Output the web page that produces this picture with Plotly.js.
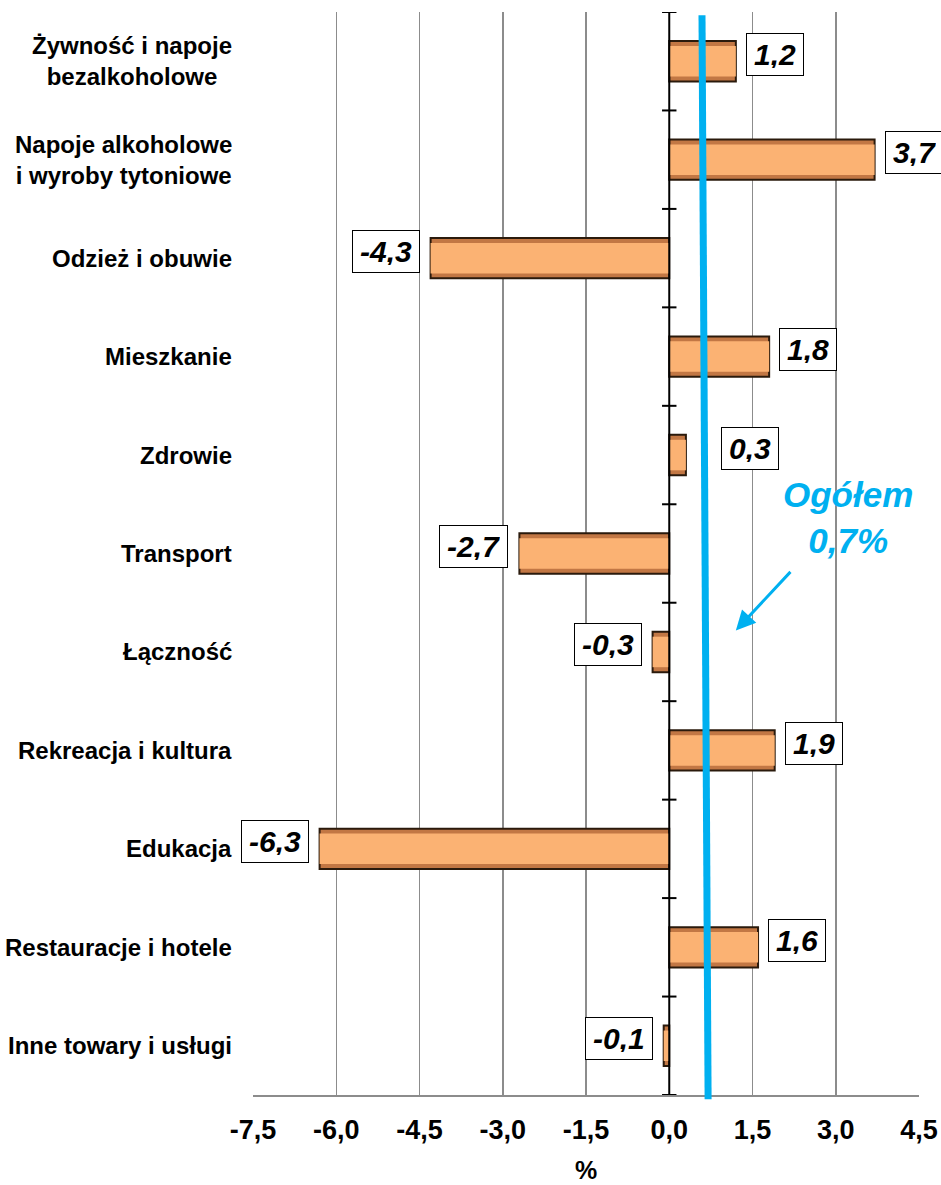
<!DOCTYPE html>
<html>
<head>
<meta charset="utf-8">
<script src="https://cdn.plot.ly/plotly-3.0.1.min.js"></script>
<style>html,body{margin:0;padding:0;background:#fff;}#chart{width:941px;height:1185px;}</style>
</head>
<body>
<div id="chart"></div>
<script>
const categories = [
  'Żywność i napoje<br>bezalkoholowe',
  'Napoje alkoholowe<br>i wyroby tytoniowe',
  'Odzież i obuwie',
  'Mieszkanie',
  'Zdrowie',
  'Transport',
  'Łączność',
  'Rekreacja i kultura',
  'Edukacja',
  'Restauracje i hotele',
  'Inne towary i usługi'
];
const values = [1.2, 3.7, -4.3, 1.8, 0.3, -2.7, -0.3, 1.9, -6.3, 1.6, -0.1];
const valueLabels = ['1,2', '3,7', '-4,3', '1,8', '0,3', '-2,7', '-0,3', '1,9', '-6,3', '1,6', '-0,1'];
const xTickVals = [-7.5, -6, -4.5, -3, -1.5, 0, 1.5, 3, 4.5];
const xTickText = ['-7,5', '-6,0', '-4,5', '-3,0', '-1,5', '0,0', '1,5', '3,0', '4,5'];
const ogolem = 0.7;
const ogolemLabel = 'Ogółem<br>0,7%';

const idx = categories.map((c, i) => i);
const FONT = 'Liberation Sans, Arial, sans-serif';
const BLUE = '#00B0F0';

const traces = [
  {type: 'bar', orientation: 'h', y: idx, x: values, width: 0.41,
   marker: {color: '#C27744', line: {color: '#2a1a0c', width: 2}}, hoverinfo: 'skip'},
  {type: 'bar', orientation: 'h', y: idx, x: values, width: 0.31,
   marker: {color: '#FBB273', line: {width: 0}}, hoverinfo: 'skip'}
];

const annotations = [];
categories.forEach((c, i) => {
  annotations.push({xref: 'paper', yref: 'y', x: 0, y: i, xanchor: 'right', yanchor: 'middle',
    xshift: -19, align: 'center', showarrow: false, text: '<b>' + c + '</b>',
    font: {family: FONT, size: 24, color: '#000'}});
});
values.forEach((v, i) => {
  const pos = v >= 0;
  let shift = pos ? 10 : -11;
  if (pos && Math.abs(v) < 0.5) shift = 35;
  annotations.push({xref: 'x', yref: 'y', x: v, y: i, xanchor: pos ? 'left' : 'right', yanchor: 'middle',
    xshift: shift, yshift: 7, showarrow: false, text: '<b><i>' + valueLabels[i] + '</i></b>',
    bgcolor: '#fff', bordercolor: '#000', borderwidth: 1, borderpad: 7, height: 27,
    font: {family: FONT, size: 30, color: '#000'}});
});
annotations.push({xref: 'paper', yref: 'paper', x: 0.893, y: 0.533, xanchor: 'center', yanchor: 'middle',
  showarrow: false, align: 'center', text: '<b><i>' + ogolemLabel + '</i></b>',
  font: {family: FONT, size: 35, color: BLUE}});
annotations.push({xref: 'paper', yref: 'paper', x: 0.725, y: 0.429, ax: 56, ay: -60,
  showarrow: true, text: '', arrowcolor: BLUE, arrowwidth: 3, arrowhead: 2, arrowsize: 1.3});

const shapes = [];
shapes.push({type: 'line', xref: 'x', yref: 'paper', x0: 0, x1: 0, y0: 0, y1: 1,
  line: {color: '#000', width: 2}, layer: 'above'});
for (let k = 0; k <= categories.length; k++) {
  shapes.push({type: 'line', xref: 'x', yref: 'y', x0: -0.13, x1: 0.13, y0: k - 0.5, y1: k - 0.5,
    line: {color: '#000', width: 2}, layer: 'above'});
}
shapes.push({type: 'line', xref: 'x', yref: 'paper', x0: ogolem - 0.11, x1: ogolem, y0: 0.997, y1: -0.004,
  line: {color: BLUE, width: 7}, layer: 'above'});

const layout = {
  width: 941, height: 1185,
  margin: {l: 253, r: 22, t: 12, b: 90},
  paper_bgcolor: '#fff', plot_bgcolor: '#fff',
  barmode: 'overlay', showlegend: false,
  xaxis: {range: [-7.5, 4.5], tickvals: xTickVals, ticktext: xTickText,
    showgrid: true, gridcolor: '#8c8c8c', gridwidth: 1.5, zeroline: false,
    showline: true, linecolor: '#8c8c8c', linewidth: 1.5, ticks: '', ticklabelstandoff: 10,
    tickfont: {family: FONT, size: 27, color: '#000', weight: 'bold'},
    title: {text: '<b>%</b>', standoff: 17, font: {family: FONT, size: 25, color: '#000'}}},
  yaxis: {range: [categories.length - 0.5, -0.5], showticklabels: false, showgrid: false,
    zeroline: false, showline: false, ticks: ''},
  annotations: annotations, shapes: shapes
};

Plotly.newPlot('chart', traces, layout, {displayModeBar: false, staticPlot: true});
</script>
</body>
</html>
